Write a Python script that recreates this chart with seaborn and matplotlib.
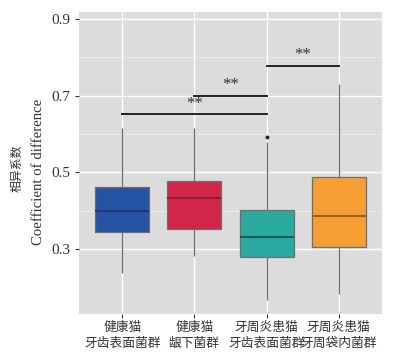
import pandas as pd
import numpy as np
import matplotlib
matplotlib.use("Agg")
import matplotlib.pyplot as plt
import seaborn as sns

# Groups (x-axis labels, two lines each)
groups = ["健康猫\n牙齿表面菌群", "健康猫\n龈下菌群", "牙周炎患猫\n牙齿表面菌群", "牙周炎患猫\n牙周袋内菌群"]

# Box statistics
whisker_low = [0.238, 0.282, 0.168, 0.183]
q1 = [0.344, 0.352, 0.279, 0.305]
medians = [0.399, 0.432, 0.331, 0.386]
q3 = [0.461, 0.477, 0.403, 0.487]
whisker_high = [0.617, 0.617, 0.580, 0.731]
outliers = [[], [], [0.593], []]

colors = ["#2554A4", "#D3264B", "#2AA99F", "#F69D33"]
median_colors = ["#1E3666", "#7E1F35", "#1E4D4A", "#8A5A2A"]

# significance brackets: (from group, to group, height)
sig_pairs = [(0, 2, 0.651), (1, 2, 0.700), (2, 3, 0.778)]
sig_text = ["**", "**", "**"]

# build a small table whose quartiles / whiskers reproduce the read values
rows = []
for i, g in enumerate(groups):
    vals = [whisker_low[i], q1[i], q1[i], medians[i], medians[i],
            q3[i], q3[i], whisker_high[i]] + outliers[i]
    for v in vals:
        rows.append({"group": g, "value": v})
df = pd.DataFrame(rows)

plt.rcParams["font.family"] = ["Liberation Serif", "Noto Sans CJK SC"]

fig = plt.figure(figsize=(3.94, 3.6), dpi=100)
ax = fig.add_axes([79 / 394, 46 / 360, 303 / 394, 302 / 360])
ax.set_facecolor("#DCDCDC")

sns.boxplot(data=df, x="group", y="value", hue="group", palette=colors,
            order=groups, hue_order=groups, legend=False, width=0.75,
            saturation=1, showcaps=False, linecolor="#6E6E6E", linewidth=0.9,
            whis=1.5, ax=ax,
            flierprops=dict(marker="o", markersize=1.8,
                            markerfacecolor="#222222", markeredgecolor="#222222"),
            zorder=3)

for c, mc in zip(ax.containers, median_colors):
    for m in c.medians:
        m.set_color(mc)
        m.set_linewidth(1.3)

# significance brackets
for (a, b, h), t in zip(sig_pairs, sig_text):
    ax.plot([a, b], [h, h], color="#222222", lw=1.4, zorder=4)
    ax.text((a + b) / 2, h + 0.006, t, ha="center", va="bottom",
            fontsize=12, color="#333333", zorder=4)

ax.set_ylim(0.131, 0.918)
ax.set_xlim(-0.6, 3.6)
ax.set_yticks([0.3, 0.5, 0.7, 0.9])
ax.set_yticklabels(["0.3", "0.5", "0.7", "0.9"])
ax.set_yticks([0.4, 0.6, 0.8], minor=True)
ax.grid(which="major", color="white", lw=1.0, zorder=0)
ax.grid(which="minor", axis="y", color="#EEEEEE", lw=0.5, zorder=0)
ax.set_axisbelow(True)
for s in ax.spines.values():
    s.set_visible(False)
ax.tick_params(axis="both", which="major", length=3, color="#333333",
               labelsize=11, labelcolor="#333333", pad=3)
ax.tick_params(axis="y", which="minor", length=0)
ax.set_xlabel("")
ax.set_ylabel("")
for lab in ax.get_xticklabels():
    lab.set_fontsize(9.2)
    lab.set_linespacing(1.35)

fig.text(18 / 394, 1 - 168 / 360, "相异系数", rotation=90, ha="center",
         va="center", fontsize=8.6, color="#333333")
fig.text(39 / 394, 1 - 172 / 360, "Coefficient of difference", rotation=90,
         ha="center", va="center", fontsize=10.6, color="#333333")

fig.savefig("out.png", dpi=100, facecolor="white")
